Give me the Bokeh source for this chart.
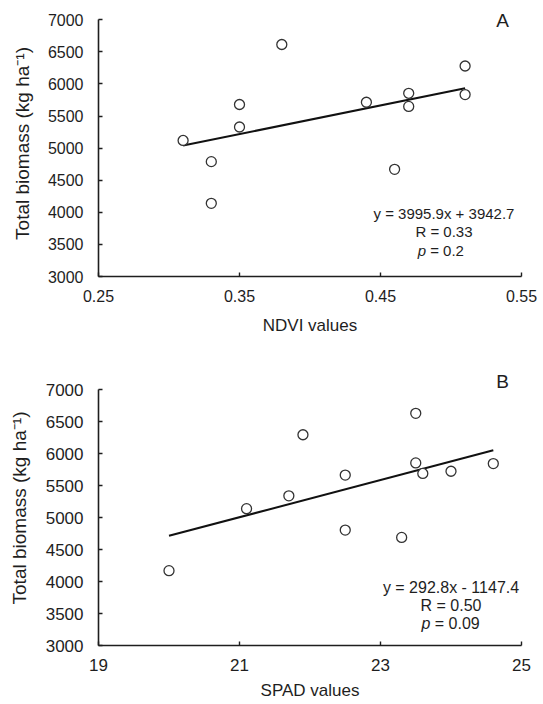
from bokeh.plotting import figure
from bokeh.layouts import column
from bokeh.models import Range1d, FixedTicker, Label, NumeralTickFormatter
from bokeh.embed import file_html
from bokeh.resources import INLINE

# ---- data ----
ndvi = [0.31, 0.33, 0.33, 0.35, 0.35, 0.38, 0.44, 0.46, 0.47, 0.47, 0.51, 0.51]
biomass_a = [5120, 4790, 4140, 5680, 5330, 6615, 5715, 4670, 5855, 5650, 6280, 5835]
fit_a_x = [0.31, 0.51]
fit_a_y = [5040, 5935]

spad = [20.0, 21.1, 21.7, 21.9, 22.5, 22.5, 23.3, 23.5, 23.5, 23.6, 24.0, 24.6]
biomass_b = [4170, 5140, 5340, 6295, 5665, 4805, 4690, 6630, 5855, 5690, 5725, 5845]
fit_b_x = [20.0, 24.6]
fit_b_y = [4715, 6052]

ndvi_ticks = [0.25, 0.35, 0.45, 0.55]
spad_ticks = [19, 21, 23, 25]
biomass_ticks = [3000, 3500, 4000, 4500, 5000, 5500, 6000, 6500, 7000]

eq_a = "y = 3995.9x + 3942.7"
r_a = "R = 0.33"
p_a = "= 0.2"
eq_b = "y = 292.8x - 1147.4"
r_b = "R = 0.50"
p_b = "= 0.09"

FONT = "Liberation Sans"
INK = "#1e1e1e"
YLABEL = "Total biomass (kg ha\u207b\u00b9)"


def style(p, tick_size, label_size, xlab_standoff, ylab_standoff):
    p.outline_line_color = None
    p.xgrid.visible = False
    p.ygrid.visible = False
    for ax in (p.xaxis[0], p.yaxis[0]):
        ax.axis_line_color = INK
        ax.axis_line_width = 1.6
        ax.major_tick_line_color = INK
        ax.major_tick_line_width = 1.4
        ax.major_tick_in = 4
        ax.major_tick_out = 0
        ax.minor_tick_line_color = None
        ax.major_label_text_font = FONT
        ax.major_label_text_font_size = tick_size
        ax.major_label_text_color = INK
        ax.axis_label_text_font = FONT
        ax.axis_label_text_font_style = "normal"
        ax.axis_label_text_color = INK
    p.xaxis[0].axis_label_text_font_size = label_size
    p.yaxis[0].axis_label_text_font_size = "19px"
    p.xaxis[0].major_label_standoff = 13
    p.xaxis[0].axis_label_standoff = xlab_standoff
    p.yaxis[0].major_label_standoff = 15
    p.yaxis[0].axis_label_standoff = ylab_standoff
    p.yaxis[0].ticker = FixedTicker(ticks=biomass_ticks)
    p.yaxis[0].bounds = (3000, 7000)


def add_text(p, x, y, txt, size, align="center", style_="normal"):
    p.add_layout(Label(x=x, y=y, text=txt, text_font=FONT, text_font_size=size,
                       text_color=INK, text_align=align, text_baseline="middle",
                       text_font_style=style_))


# ---- panel A ----
pa = figure(width=543, height=352, output_backend="svg", toolbar_location=None,
            x_range=Range1d(0.25, 0.55), y_range=Range1d(3000, 7145),
            min_border_left=98, min_border_right=22, min_border_top=10, min_border_bottom=76,
            x_axis_label="NDVI values", y_axis_label=YLABEL)
style(pa, "16px", "17px", 11, 12)
pa.xaxis[0].ticker = FixedTicker(ticks=ndvi_ticks)
pa.xaxis[0].formatter = NumeralTickFormatter(format="0.00")
pa.line(fit_a_x, fit_a_y, line_color="#111111", line_width=2)
pa.scatter(ndvi, biomass_a, marker="circle", size=10, fill_color="white",
           line_color="#333333", line_width=1.3)
add_text(pa, 0.495, 3977, eq_a, "15px")
add_text(pa, 0.495, 3706, r_a, "15px")
add_text(pa, 0.4823, 3405, "p", "15px", align="right", style_="italic")
add_text(pa, 0.4852, 3405, p_a, "15px", align="left")
add_text(pa, 0.5365, 6990, "A", "19px")

# ---- panel B ----
pb = figure(width=543, height=352, output_backend="svg", toolbar_location=None,
            x_range=Range1d(19, 25), y_range=Range1d(3000, 7300),
            min_border_left=93, min_border_right=20, min_border_top=18, min_border_bottom=59,
            x_axis_label="SPAD values", y_axis_label=YLABEL)
style(pb, "17px", "17px", 7, 13)
pb.xaxis[0].ticker = FixedTicker(ticks=spad_ticks)
pb.line(fit_b_x, fit_b_y, line_color="#111111", line_width=2)
pb.scatter(spad, biomass_b, marker="circle", size=10, fill_color="white",
           line_color="#333333", line_width=1.3)
add_text(pb, 24.0, 3906, eq_b, "16px")
add_text(pb, 24.0, 3619, r_b, "16px")
add_text(pb, 23.707, 3337, "p", "16px", align="right", style_="italic")
add_text(pb, 23.77, 3337, p_b, "16px", align="left")
add_text(pb, 24.73, 7130, "B", "19px")

layout = column(pa, pb, spacing=0)
open("out.html", "w").write(file_html(layout, INLINE))
